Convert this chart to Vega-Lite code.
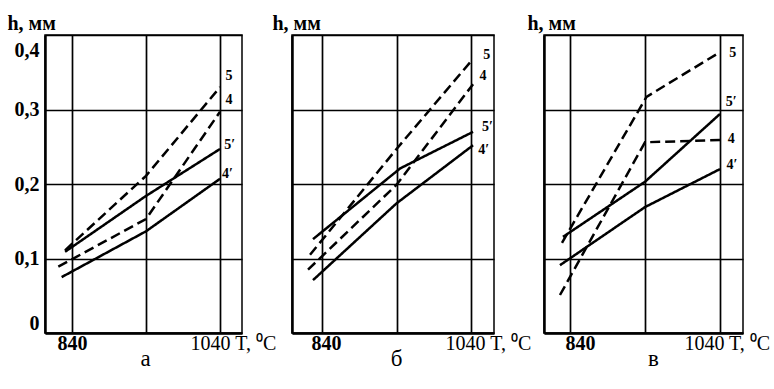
{
  "$schema": "https://vega.github.io/schema/vega-lite/v6.json",
  "background": "white",
  "padding": {"left": 6, "top": 12, "right": 2, "bottom": 2},
  "spacing": 50,
  "bounds": "flush",
  "datasets": {
    "curves": [
      {"panel": "а", "curve": "5", "style": "dashed", "T": 830.6, "h": 0.111},
      {"panel": "а", "curve": "5", "style": "dashed", "T": 940, "h": 0.211},
      {"panel": "а", "curve": "5", "style": "dashed", "T": 1040, "h": 0.330},
      {"panel": "а", "curve": "4", "style": "dashed", "T": 821.5, "h": 0.089},
      {"panel": "а", "curve": "4", "style": "dashed", "T": 940, "h": 0.153},
      {"panel": "а", "curve": "4", "style": "dashed", "T": 1040, "h": 0.297},
      {"panel": "а", "curve": "5'", "style": "solid", "T": 830.6, "h": 0.109},
      {"panel": "а", "curve": "5'", "style": "solid", "T": 940, "h": 0.184},
      {"panel": "а", "curve": "5'", "style": "solid", "T": 1040, "h": 0.247},
      {"panel": "а", "curve": "4'", "style": "solid", "T": 826, "h": 0.075},
      {"panel": "а", "curve": "4'", "style": "solid", "T": 940, "h": 0.1365},
      {"panel": "а", "curve": "4'", "style": "solid", "T": 1040, "h": 0.207},
      {"panel": "б", "curve": "5", "style": "dashed", "T": 823.9, "h": 0.105},
      {"panel": "б", "curve": "5", "style": "dashed", "T": 940, "h": 0.247},
      {"panel": "б", "curve": "5", "style": "dashed", "T": 1042.7, "h": 0.368},
      {"panel": "б", "curve": "4", "style": "dashed", "T": 821.2, "h": 0.085},
      {"panel": "б", "curve": "4", "style": "dashed", "T": 940, "h": 0.199},
      {"panel": "б", "curve": "4", "style": "dashed", "T": 1042.7, "h": 0.334},
      {"panel": "б", "curve": "5'", "style": "solid", "T": 827.9, "h": 0.126},
      {"panel": "б", "curve": "5'", "style": "solid", "T": 945, "h": 0.221},
      {"panel": "б", "curve": "5'", "style": "solid", "T": 1042.7, "h": 0.270},
      {"panel": "б", "curve": "4'", "style": "solid", "T": 827.9, "h": 0.071},
      {"panel": "б", "curve": "4'", "style": "solid", "T": 940, "h": 0.174},
      {"panel": "б", "curve": "4'", "style": "solid", "T": 1042.7, "h": 0.252},
      {"panel": "в", "curve": "5", "style": "dashed", "T": 829.3, "h": 0.121},
      {"panel": "в", "curve": "5", "style": "dashed", "T": 942, "h": 0.317},
      {"panel": "в", "curve": "5", "style": "dashed", "T": 1040, "h": 0.377},
      {"panel": "в", "curve": "4", "style": "dashed", "T": 826.6, "h": 0.051},
      {"panel": "в", "curve": "4", "style": "dashed", "T": 940, "h": 0.256},
      {"panel": "в", "curve": "4", "style": "dashed", "T": 1040, "h": 0.259},
      {"panel": "в", "curve": "5'", "style": "solid", "T": 830.6, "h": 0.129},
      {"panel": "в", "curve": "5'", "style": "solid", "T": 940, "h": 0.203},
      {"panel": "в", "curve": "5'", "style": "solid", "T": 1040, "h": 0.294},
      {"panel": "в", "curve": "4'", "style": "solid", "T": 826.6, "h": 0.091},
      {"panel": "в", "curve": "4'", "style": "solid", "T": 940, "h": 0.169},
      {"panel": "в", "curve": "4'", "style": "solid", "T": 1040, "h": 0.220}
    ],
    "labels": [
      {"panel": "а", "text": "5", "T": 1052, "h": 0.345},
      {"panel": "а", "text": "4", "T": 1052, "h": 0.313},
      {"panel": "а", "text": "5′", "T": 1053, "h": 0.252},
      {"panel": "а", "text": "4′", "T": 1050, "h": 0.213},
      {"panel": "б", "text": "5", "T": 1061, "h": 0.373},
      {"panel": "б", "text": "4", "T": 1056, "h": 0.345},
      {"panel": "б", "text": "5′", "T": 1062, "h": 0.277},
      {"panel": "б", "text": "4′", "T": 1057, "h": 0.246},
      {"panel": "в", "text": "5", "T": 1057, "h": 0.376},
      {"panel": "в", "text": "5′", "T": 1055, "h": 0.310},
      {"panel": "в", "text": "4", "T": 1055, "h": 0.260},
      {"panel": "в", "text": "4′", "T": 1056, "h": 0.226}
    ]
  },
  "config": {
    "view": {"stroke": "black", "strokeWidth": 1.5},
    "font": "Liberation Serif",
    "axis": {
      "labelFont": "Liberation Serif",
      "titleFont": "Liberation Serif",
      "labelColor": "black",
      "titleColor": "black",
      "grid": true,
      "gridColor": "black",
      "gridWidth": 1.7,
      "gridOpacity": 1,
      "ticks": false,
      "domainColor": "black",
      "domainWidth": 2.5
    },
    "axisX": {
      "labelFontSize": 20,
      "labelFontWeight": {"condition": {"test": "datum.value == 840", "value": "bold"}, "value": "normal"},
      "labelAlign": {"condition": {"test": "datum.value == 1040", "value": "left"}, "value": "center"},
      "labelPadding": 0,
      "labelFlush": false,
      "labelOverlap": false,
      "titleFontSize": 23,
      "titleFontWeight": "normal",
      "titleAlign": "center",
      "titleBaseline": "alphabetic",
      "titleY": 32
    },
    "axisY": {
      "labelFontSize": 20,
      "labelFontWeight": "bold",
      "labelPadding": 6,
      "labelFlush": false,
      "labelBaseline": {"condition": [{"test": "datum.value == 0", "value": "bottom"}, {"test": "datum.value == 0.4", "value": "top"}], "value": "middle"},
      "labelOffset": {"condition": {"test": "datum.value == 0.4", "value": 5}, "value": 0},
      "titleAngle": 0,
      "titleAlign": "left",
      "titleBaseline": "alphabetic",
      "titleFontSize": 20,
      "titleFontWeight": "bold",
      "titleY": -6
    }
  },
  "hconcat": [
    {
      "width": 197,
      "height": 298,
      "layer": [
        {
          "data": {"name": "curves"},
          "transform": [{"filter": "datum.panel === 'а'"}],
          "mark": {"type": "line", "color": "black", "strokeWidth": 2.5},
          "encoding": {
            "x": {"field": "T", "type": "quantitative", "scale": {"domain": [803.5, 1069.7], "nice": false, "zero": false}, "axis": {"title": "а", "titleX": 100, "values": [840, 940, 1040], "labelExpr": "datum.value == 840 ? '840' : (datum.value == 1040 ? '1040 T, ⁰C' : '')", "labelOffset": {"condition": {"test": "datum.value == 1040", "value": -30}, "value": 0}}},
            "y": {"field": "h", "type": "quantitative", "scale": {"domain": [0, 0.4], "nice": false}, "axis": {"title": "h, мм", "titleX": -38, "values": [0, 0.1, 0.2, 0.3, 0.4], "labelExpr": "datum.value == 0 ? '0' : replace(format(datum.value, '.1f'), '.', ',')"}},
            "detail": {"field": "curve"},
            "strokeDash": {"field": "style", "type": "nominal", "scale": {"domain": ["solid", "dashed"], "range": [[1, 0], [10, 5]]}, "legend": null}
          }
        },
        {
          "data": {"name": "labels"},
          "transform": [{"filter": "datum.panel === 'а'"}],
          "mark": {"type": "text", "font": "Liberation Serif", "fontWeight": "bold", "fontSize": 14, "color": "black"},
          "encoding": {
            "x": {"field": "T", "type": "quantitative"},
            "y": {"field": "h", "type": "quantitative"},
            "text": {"field": "text"}
          }
        }
      ]
    },
    {
      "width": 202,
      "height": 298,
      "layer": [
        {
          "data": {"name": "curves"},
          "transform": [{"filter": "datum.panel === 'б'"}],
          "mark": {"type": "line", "color": "black", "strokeWidth": 2.5},
          "encoding": {
            "x": {"field": "T", "type": "quantitative", "scale": {"domain": [799.7, 1070.8], "nice": false, "zero": false}, "axis": {"title": "б", "titleX": 104, "values": [840, 940, 1040], "labelExpr": "datum.value == 840 ? '840' : (datum.value == 1040 ? '1040 T, ⁰C' : '')", "labelOffset": {"condition": {"test": "datum.value == 1040", "value": -26}, "value": 4}}},
            "y": {"field": "h", "type": "quantitative", "scale": {"domain": [0, 0.4], "nice": false}, "axis": {"title": "h, мм", "titleX": -20, "labels": false, "values": [0, 0.1, 0.2, 0.3, 0.4]}},
            "detail": {"field": "curve"},
            "strokeDash": {"field": "style", "type": "nominal", "scale": {"domain": ["solid", "dashed"], "range": [[1, 0], [10, 5]]}, "legend": null}
          }
        },
        {
          "data": {"name": "labels"},
          "transform": [{"filter": "datum.panel === 'б'"}],
          "mark": {"type": "text", "font": "Liberation Serif", "fontWeight": "bold", "fontSize": 14, "color": "black"},
          "encoding": {
            "x": {"field": "T", "type": "quantitative"},
            "y": {"field": "h", "type": "quantitative"},
            "text": {"field": "text"}
          }
        }
      ]
    },
    {
      "width": 199,
      "height": 298,
      "layer": [
        {
          "data": {"name": "curves"},
          "transform": [{"filter": "datum.panel === 'в'"}],
          "mark": {"type": "line", "color": "black", "strokeWidth": 2.5},
          "encoding": {
            "x": {"field": "T", "type": "quantitative", "scale": {"domain": [805.3, 1070.7], "nice": false, "zero": false}, "axis": {"title": "в", "titleX": 109, "values": [840, 940, 1040], "labelExpr": "datum.value == 840 ? '840' : (datum.value == 1040 ? '1040 T, ⁰C' : '')", "labelOffset": {"condition": {"test": "datum.value == 1040", "value": -36}, "value": 10}}},
            "y": {"field": "h", "type": "quantitative", "scale": {"domain": [0, 0.4], "nice": false}, "axis": {"title": "h, мм", "titleX": -17, "labels": false, "values": [0, 0.1, 0.2, 0.3, 0.4]}},
            "detail": {"field": "curve"},
            "strokeDash": {"field": "style", "type": "nominal", "scale": {"domain": ["solid", "dashed"], "range": [[1, 0], [10, 5]]}, "legend": null}
          }
        },
        {
          "data": {"name": "labels"},
          "transform": [{"filter": "datum.panel === 'в'"}],
          "mark": {"type": "text", "font": "Liberation Serif", "fontWeight": "bold", "fontSize": 14, "color": "black"},
          "encoding": {
            "x": {"field": "T", "type": "quantitative"},
            "y": {"field": "h", "type": "quantitative"},
            "text": {"field": "text"}
          }
        }
      ]
    }
  ]
}
